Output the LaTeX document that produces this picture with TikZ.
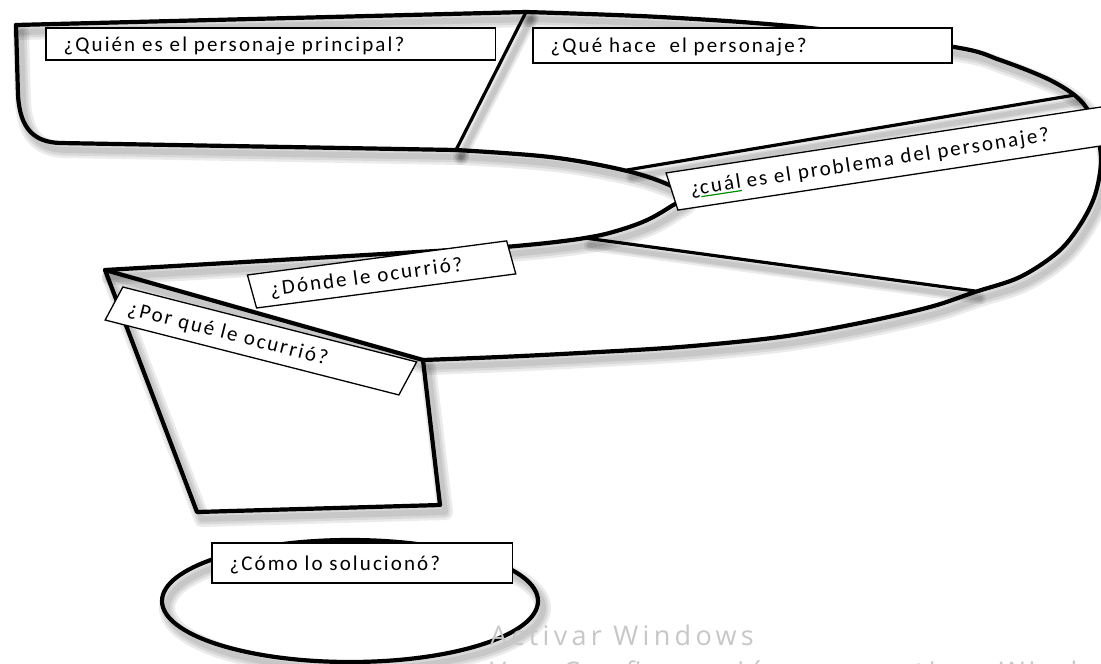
\documentclass[tikz,border=0pt]{standalone}
\usepackage{fontspec}
\setmainfont{Carlito}
\newfontfamily\qfont[LetterSpace=10]{Carlito}
\newfontfamily\wmfont[LetterSpace=16]{Open Sans}
\tikzset{
  boxl/.style={draw=black, line width=1.3pt, fill=white},
  qt/.style={anchor=base west, inner sep=0pt, font=\qfont\fontsize{21}{23}\selectfont},
  outl/.style={draw=black, line width=4.2pt, line join=round, line cap=round},
  divl/.style={draw=black, line width=3.2pt, line cap=round},
  shad/.style={draw=black, line width=#1, opacity=0.08, line join=round, line cap=round},
  wm/.style={font=\wmfont\fontsize{27}{29}\selectfont, text=black!22, inner sep=0pt,
    anchor=base west}
}
\newcommand\gul[1]{\setbox0\hbox{#1}\rlap{\color{green!55!black}\rule[-3pt]{\wd0}{1.2pt}}\box0}
% name, x, y, angle, width, height, text angle, text
\newcommand\qbox[8]{%
  \begin{scope}[shift={(#2,#3)}, xscale=1.45, rotate=#4]
    \path[boxl] (0,-#6/2) rectangle (#5,#6/2);
    \node[qt, rotate=#7] (#1) at (12,7) {#8};
  \end{scope}}
\newcommand\qshapes[2]{%
  \draw[#1] (16,25) -- (526,12);
  \draw[#1] (16,25) -- (18,95) .. controls (20,130) and (35,142) .. (60,143) -- (456,150);
  \draw[#1] plot[smooth, tension=0.55] coordinates {(526,12) (660,17) (800,27) (954,47)
    (1000,60) (1050,80) (1080,100) (1095,125) (1101,160) (1095,195) (1080,225)
    (1058,252) (1020,277) (975,292) (930,307) (860,323) (780,337) (680,347)
    (580,353) (500,357) (423,360)};
  \draw[#1] (105,270) -- plot[smooth, tension=0.6] coordinates {(505,247) (547,243)
    (585,238) (613,232) (645,221) (670,207) (684,196) (667,184) (623,170) (550,157)
    (456,150)};
  \draw[#1] (105,270) -- (423,360) -- (440,505) -- (197,512) -- cycle;
  \draw[#1] (350,601) ellipse [x radius=188pt, y radius=61pt];
  \draw[#2] (526,12) -- (456,150);
  \draw[#2] (627,170) -- (1075,95);
  \draw[#2] (585,238) -- (975,291);
}
\begin{document}
\begin{tikzpicture}[x=1pt, y=-1pt]
  \useasboundingbox (0,0) rectangle (1101,664);
  \clip (0,0) rectangle (1101,664);
  \fill[white] (0,0) rectangle (1101,664);
  % soft shadow
  \begin{scope}[shift={(5,7)}]
    \qshapes{shad=16pt}{shad=12pt}
    \qshapes{shad=11pt}{shad=8pt}
    \qshapes{shad=6pt}{shad=5pt}
  \end{scope}
  % outlines
  \qshapes{outl}{divl}
  % watermark
  \node[wm] (wm1) at (490,645) {Activar Windows};
  \node[wm] (wm2) at (490,681) {Ve a Configuración para activar Windows};
  % question boxes
  \qbox{quien}{46}{44}{0}{310}{32}{0}{¿Quién es el personaje principal?}
  \qbox{que}{533}{45.5}{0}{289}{35}{0}{¿Qué hace\ \ el personaje?}
  \qbox{cual}{672}{191.5}{12.4}{340}{38}{8.62}{¿\gul{cuál}\hspace{6pt}es el problema del personaje?}
  \qbox{donde}{252}{291.5}{10.8}{182}{33.6}{7.5}{¿Dónde le ocurrió?}
  \qbox{porque}{114}{303.5}{-20.3}{216}{35.2}{-14.3}{¿Por qué le ocurrió?}
  \qbox{como}{212}{563}{0}{207}{40}{0}{¿Cómo lo solucionó?}
\end{tikzpicture}
\end{document}
